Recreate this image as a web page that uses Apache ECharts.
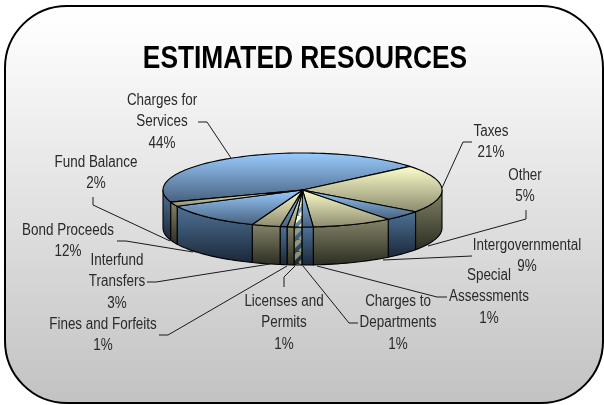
<!DOCTYPE html>
<html><head><meta charset="utf-8">
<style>html,body{margin:0;padding:0;background:#fff}#c{width:604px;height:405px}</style>
<script src="https://cdn.jsdelivr.net/npm/echarts@6/dist/echarts.min.js"></script>
</head><body><div id="c"></div>
<script>
const titleText = 'ESTIMATED RESOURCES';
const categories = ['Charges for\nServices','Taxes','Other','Intergovernmental','Special\nAssessments','Charges to\nDepartments','Licenses and\nPermits','Fines and Forfeits','Interfund\nTransfers','Bond Proceeds','Fund Balance'];
const values = [44.3,21,4.5,9.3,1.3,0.9,0.8,0.8,3.3,11.9,1.9];
const kinds = ['blue','cream','blue','cream','blue','hatch','cream','blue','cream','blue','cream'];
const startAngle = -109.2;   // clockwise from the top of the pie

// layout of the labels and their leader lines (pixels)
const labelCentres = [[162,122],[491,142],[525,186],[527,256],[489,297],[398,323],[284,323],[103,335],[117,282],[68,241],[96,173]];
const leaders = [
 [[198,122],[207,122],[231,158]],
 [[472,142],[463,142],[442,188]],
 [[526,210],[526,219],[428,246]],
 [[472,256],[383,260]],
 [[447,297],[437,297],[317,266]],
 [[358,323],[349,323],[303,266]],
 [[284,287],[284,277],[295,266]],
 [[159,335],[168,335],[287,266]],
 [[147,282],[156,282],[270,264]],
 [[117,241],[126,241],[193,252]],
 [[93,197],[93,205],[170,241]]
];
const pie = {cx:302.5, cy:190, rx:139.5, ry:37, depth:38};

const total = values.reduce((a,b)=>a+b,0);
let acc = startAngle;
const spans = values.map(v=>{const s=acc; acc+=v/total*360; return [s,acc];});

const G = echarts.graphic.LinearGradient;
const grad = (a,b)=>new G(0,0,0,1,[{offset:0,color:a},{offset:1,color:b}]);
const topFill = {blue:()=>grad('#99CCFF','#47607C'),cream:()=>grad('#FFFFCC','#8A8A6E'),hatch:()=>grad('#99CCFF','#5D7C9C')};
const sideFill = {blue:()=>grad('#4F7398','#1A2738'),cream:()=>grad('#85856A','#2C2C22'),hatch:()=>grad('#4F7398','#1A2738')};

function stripes(color){
  const n=12, cv=document.createElement('canvas'); cv.width=n; cv.height=n;
  const g=cv.getContext('2d'); g.strokeStyle=color; g.lineWidth=4.5;
  for(let i=-1;i<=1;i++){g.beginPath();g.moveTo(i*n,n);g.lineTo(i*n+n,0);g.stroke();}
  return {image:cv,repeat:'repeat'};
}
const topHatch=stripes('rgba(255,255,204,0.95)'), sideHatch=stripes('rgba(170,170,120,0.8)');

const unit = d=>[Math.sin(d*Math.PI/180),Math.cos(d*Math.PI/180)];
function arc(a,b,yShift){
  const n=Math.max(2,Math.ceil(Math.abs(b-a)/2)),pts=[];
  for(let i=0;i<=n;i++){const u=unit(a+(b-a)*i/n);pts.push([u[0],u[1]-yShift]);}
  return pts;
}
const border={stroke:'#000',lineWidth:1.1,lineJoin:'round'};

function renderTop(p,api){
  const a=api.value(0),b=api.value(1),k=kinds[p.dataIndex];
  const pts=[[0,0]].concat(arc(a,b,0)).map(q=>api.coord(q));
  const kids=[{type:'polygon',shape:{points:pts},style:Object.assign({fill:topFill[k]()},k==='hatch'?{}:border)}];
  if(k==='hatch') kids.push({type:'polygon',shape:{points:pts},style:Object.assign({fill:topHatch},border)});
  return {type:'group',children:kids};
}
function renderSide(p,api){
  let a=api.value(0),b=api.value(1),k=kinds[p.dataIndex];
  const kids=[];
  [0,360,-360].forEach(off=>{
    const s=Math.max(a+off,90),e=Math.min(b+off,270);
    if(e<=s) return;
    const d=pie.depth/pie.ry;
    const pts=arc(s,e,0).concat(arc(e,s,d)).map(q=>api.coord(q));
    kids.push({type:'polygon',shape:{points:pts},style:Object.assign({fill:sideFill[k]()},k==='hatch'?{}:border)});
    if(k==='hatch') kids.push({type:'polygon',shape:{points:pts},style:Object.assign({fill:sideHatch},border)});
  });
  return {type:'group',children:kids};
}

const FONT='"Liberation Sans",Arial,sans-serif';
const graphics=[
 {type:'rect',z:-10,shape:{x:5,y:6,width:598,height:397,r:62},
  style:{fill:new G(0,0,0,1,[{offset:0,color:'#FFFFFF'},{offset:0.08,color:'#FCFCFC'},{offset:1,color:'#C2C2C2'}]),stroke:'#000',lineWidth:2}}
];
leaders.forEach(l=>graphics.push({type:'polyline',z:5,shape:{points:l},style:{fill:null,stroke:'#1a1a1a',lineWidth:1}}));
categories.forEach((c,i)=>graphics.push({type:'text',z:10,x:labelCentres[i][0],y:labelCentres[i][1],scaleX:0.84,
  style:{text:c+'\n'+Math.round(values[i]/total*100)+'%',fill:'#2a2a2a',font:'16px '+FONT,lineHeight:21.7,textAlign:'center',textVerticalAlign:'middle',align:'center',verticalAlign:'middle'}}));
graphics.push({type:'text',z:10,x:305,y:59,scaleX:0.823,style:{text:titleText,fill:'#000',font:'bold 32px '+FONT,textAlign:'center',textVerticalAlign:'middle',align:'center',verticalAlign:'middle'}});

const chart=echarts.init(document.getElementById('c'),null,{renderer:'canvas'});
const spanData=spans.map(s=>[s[0],s[1]]);
chart.setOption({
  animation:false,
  backgroundColor:'#fff',
  grid:{left:pie.cx-pie.rx,top:pie.cy-pie.ry,width:2*pie.rx,height:2*pie.ry,containLabel:false},
  xAxis:{type:'value',min:-1,max:1,show:false},
  yAxis:{type:'value',min:-1,max:1,show:false},
  graphic:graphics,
  series:[
    {type:'custom',name:'sides',coordinateSystem:'cartesian2d',clip:false,silent:true,renderItem:renderSide,data:spanData,encode:{x:0,y:1},z:2},
    {type:'custom',name:'tops',coordinateSystem:'cartesian2d',clip:false,silent:true,renderItem:renderTop,data:spanData,encode:{x:0,y:1},z:3}
  ]
});
</script></body></html>
